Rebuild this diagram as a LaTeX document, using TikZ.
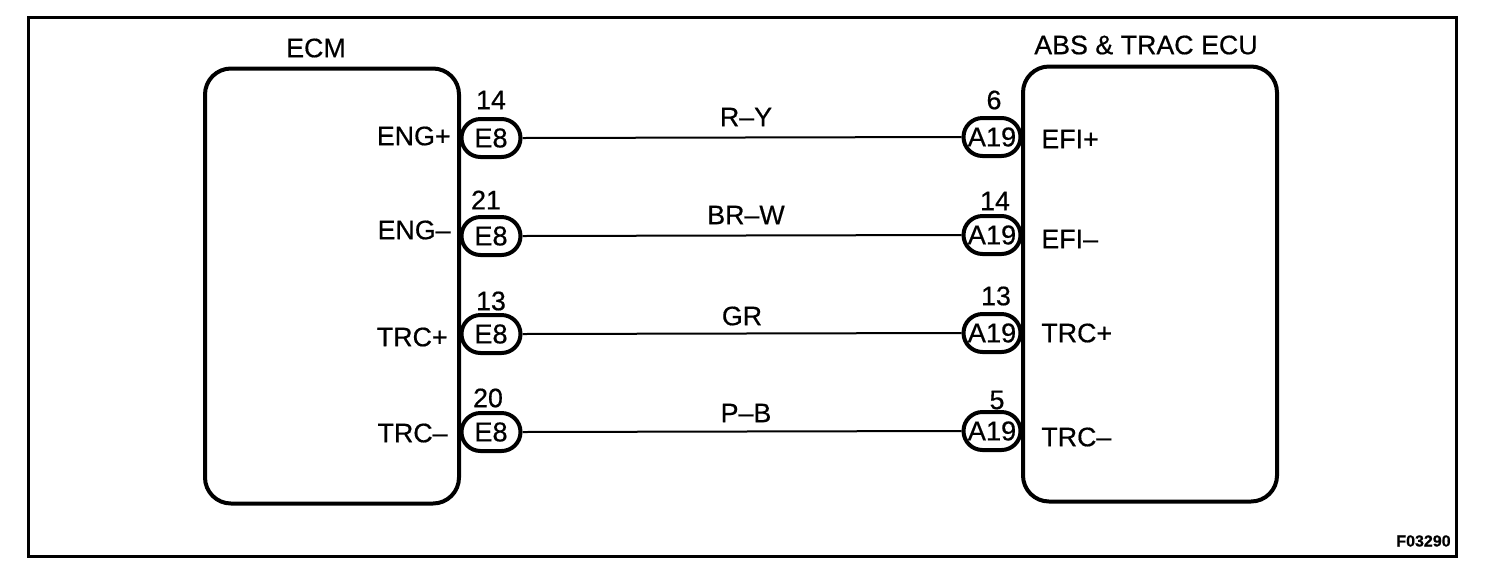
\documentclass[tikz,border=0pt]{standalone}
\usepackage{fontspec}
\setmainfont{Liberation Sans}[FakeBold=0.5]
\tikzset{
  x=0.5pt,y=-0.5pt,
  frameline/.style={draw=black,line width=1.5pt},
  ecubox/.style={draw=black,line width=2pt,rounded corners=13pt,fill=white},
  pill/.style={draw=black,line width=2pt,rounded corners=9.5pt,fill=white,minimum height=19pt,inner sep=0pt,font=\fontsize{13.6}{14}\selectfont},
  epill/.style={pill,minimum width=29.5pt},
  apill/.style={pill,minimum width=28.5pt},
  wire/.style={draw=black,line width=1pt},
  lbl/.style={inner sep=0pt,font=\fontsize{13.4}{14}\selectfont},
  tiny/.style={inner sep=0pt,font=\bfseries\fontsize{8}{9}\selectfont}
}
\begin{document}
\begin{tikzpicture}
\useasboundingbox (0,0) rectangle (1504,580);
\fill[white] (0,0) rectangle (1504,580);
\node[frameline,minimum width=714pt,minimum height=269.5pt,inner sep=0pt] (frame) at (742,287) {};
\node[ecubox,minimum width=127pt,minimum height=217.5pt,inner sep=0pt] (ecm) at (332,286) {};
\node[ecubox,minimum width=127pt,minimum height=217.5pt,inner sep=0pt] (ecu) at (1150,284) {};
\node[lbl] (ecmt) at (316,48) {ECM};
\node[lbl] (ecut) at (1146,45) {ABS \& TRAC ECU};
% pills
\node[epill] (e1) at (491,138) {E8};
\node[epill] (e2) at (491,236) {E8};
\node[epill] (e3) at (491,334) {E8};
\node[epill] (e4) at (491,432) {E8};
\node[apill] (a1) at (992,137) {A19};
\node[apill] (a2) at (992,235) {A19};
\node[apill] (a3) at (992,333) {A19};
\node[apill] (a4) at (992,431) {A19};
% wires
\draw[wire] (e1.east) -- (a1.west);
\draw[wire] (e2.east) -- (a2.west);
\draw[wire] (e3.east) -- (a3.west);
\draw[wire] (e4.east) -- (a4.west);
% wire labels
\node[lbl] (w1) at (746,117) {R–Y};
\node[lbl] (w2) at (746,215) {BR–W};
\node[lbl] (w3) at (742,316) {GR};
\node[lbl] (w4) at (746,413) {P–B};
% left signals
\node[lbl,anchor=east] (l1) at (451,136) {ENG+};
\node[lbl,anchor=east] (l2) at (451,230) {ENG–};
\node[lbl,anchor=east] (l3) at (448,337) {TRC+};
\node[lbl,anchor=east] (l4) at (448,433) {TRC–};
% right signals
\node[lbl,anchor=west] (r1) at (1041,139) {EFI+};
\node[lbl,anchor=west] (r2) at (1041,239) {EFI–};
\node[lbl,anchor=west] (r3) at (1041,333) {TRC+};
\node[lbl,anchor=west] (r4) at (1041,437) {TRC–};
% pin numbers
\node[lbl] (n1) at (491,100) {14};
\node[lbl] (n2) at (486,200) {21};
\node[lbl] (n3) at (491,301) {13};
\node[lbl] (n4) at (488,398) {20};
\node[lbl] (m1) at (994,100) {6};
\node[lbl] (m2) at (995,201) {14};
\node[lbl] (m3) at (996,296) {13};
\node[lbl] (m4) at (997,400) {5};
\node[tiny,anchor=east] (code) at (1451,541) {F03290};
\end{tikzpicture}
\end{document}
